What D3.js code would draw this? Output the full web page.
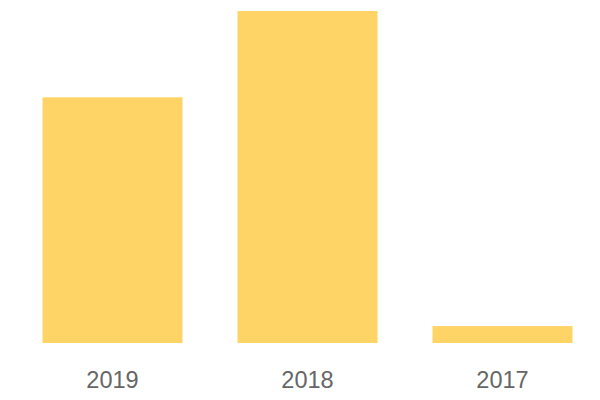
<!DOCTYPE html>
<html>
<head>
<meta charset="utf-8">
<script src="https://cdn.jsdelivr.net/npm/d3@7"></script>
<style>
  body { margin: 0; background: #fff; }
</style>
</head>
<body>
<div id="chart"></div>
<script>
// data
var years = ["2019", "2018", "2017"];
var values = [74, 100, 5.1];

var width = 600;
var height = 400;

var svg = d3.select("#chart")
    .append("svg")
    .attr("width", width)
    .attr("height", height);

// band scale for the years
var x = d3.scaleBand()
    .domain(years)
    .range([15, 600])
    .paddingInner(0.282)
    .paddingOuter(0.141);

// linear scale for the bar heights
var y = d3.scaleLinear()
    .domain([0, d3.max(values)])
    .range([343, 11]);

svg.append("g")
    .selectAll("rect")
    .data(years)
    .enter()
    .append("rect")
    .attr("x", function(d) { return x(d); })
    .attr("width", x.bandwidth())
    .attr("y", function(d, i) { return y(values[i]); })
    .attr("height", function(d, i) { return y(0) - y(values[i]); })
    .style("fill", "#ffd466");

// year labels under the bars
var xAxis = svg.append("g")
    .attr("transform", "translate(0,343)")
    .call(d3.axisBottom(x).tickSize(0).tickPadding(0));

xAxis.select(".domain").remove();
xAxis.selectAll("text")
    .attr("y", 45)
    .attr("dy", null)
    .style("font-family", "'Liberation Sans', Arial, sans-serif")
    .style("font-size", "23.5px")
    .style("fill", "#666");
</script>
</body>
</html>
